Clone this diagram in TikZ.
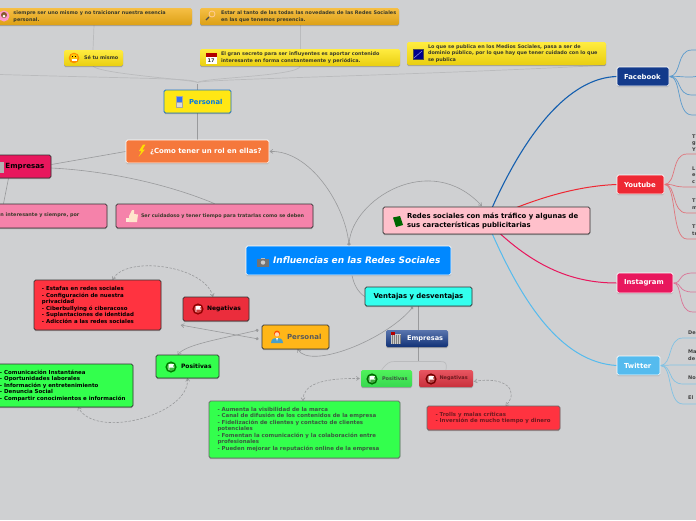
\documentclass[tikz,border=0pt]{standalone}
\usepackage{fontspec}
\setmainfont{DejaVu Sans}
\usetikzlibrary{arrows.meta,backgrounds,shadows,calc}
\definecolor{bgc}{HTML}{CFD0D2}
\definecolor{grl}{HTML}{999A9C}
\definecolor{grf}{HTML}{BABBBD}
\definecolor{fbn}{HTML}{133A8B}
\definecolor{ytr}{HTML}{EE2833}
\definecolor{igp}{HTML}{E8175D}
\definecolor{twb}{HTML}{55BBEE}
\definecolor{txd}{HTML}{3A3A2A}
\definecolor{goldt}{HTML}{F6BF45}
\definecolor{goldb}{HTML}{DCA015}
\definecolor{yelt}{HTML}{FFEC40}
\definecolor{yelb}{HTML}{E9CE10}
\definecolor{darkgreentxt}{HTML}{3A5A3E}
\definecolor{darkredtxt}{HTML}{6E1A20}
\tikzset{
 x=1pt,y=-1pt,
 boxbase/.style={rounded corners=1.6pt,align=left},
 shad/.style={drop shadow={shadow xshift=0pt,shadow yshift=-1.2pt,opacity=.22,fill=black}},
 goldbox/.style={boxbase,shad,top color=goldt,bottom color=goldb,text=txd,font=\fontsize{4.9}{6.8}\selectfont\bfseries},
 yellowbox/.style={boxbase,shad,top color=yelt,bottom color=yelb,text=txd,font=\fontsize{4.9}{6.8}\selectfont\bfseries},
 darkedge/.style={draw=black!80,line width=.8pt,boxbase,shad},
 whiteedge/.style={draw=white,line width=.8pt,boxbase,shad},
 listfont/.style={font=\fontsize{5.45}{6.5}\selectfont\bfseries},
 socialfont/.style={font=\fontsize{6.9}{8}\selectfont\bfseries},
 tiptxt/.style={font=\fontsize{5}{6.7}\selectfont\bfseries,text=black!75,anchor=west,inner sep=0pt,align=left},
 conn/.style={draw=grl,line width=.6pt},
 connl/.style={draw=grf,line width=.7pt},
 arr/.style={conn,-{Straight Barb[length=3pt,width=4pt]}},
 darr/.style={draw=grl,line width=.6pt,dashed,dash pattern=on 2.5pt off 1.5pt,{Straight Barb[length=3pt,width=4pt]}-{Straight Barb[length=3pt,width=4pt]}},
 dotarr/.style={conn,{Circle[length=3pt,width=3pt]}-{Straight Barb[length=3pt,width=4pt]}},
 fanb/.style={line width=.7pt,draw=fbn!35!twb!80!bgc},
 fanr/.style={line width=.7pt,draw=ytr!55!bgc},
 fanp/.style={line width=.7pt,draw=igp!50!bgc},
 fant/.style={line width=.7pt,draw=twb!65!bgc},
}
\newcommand\bx[8]{%
 \pgfmathsetmacro\bxw{#4-(#2)}\pgfmathsetmacro\bxh{#5-#3}%
 \pgfmathsetmacro\bxcx{(#2+#4)/2}\pgfmathsetmacro\bxcy{(#3+#5)/2}%
 \node[#7,minimum width=\bxw pt,minimum height=\bxh pt,inner sep=0pt] (#1) at (\bxcx,\bxcy)
  {\makebox[\bxw pt][l]{\hspace*{#6pt}\parbox{400pt}{\raggedright #8}}};}
\newcommand\flagic[3]{%
 \fill[#3!75!black] (#1,#2) circle (5.6);
 \fill[#3!75!white] (#1,#2) circle (4);
 \fill[white] (#1-2.5,#2-2.8) -- (#1+3,#2-2.8) -- (#1+2,#2-.9) -- (#1+3,#2+.6) -- (#1-1.6,#2+.6) -- (#1-1.6,#2+3.2) -- (#1-2.5,#2+3.2) -- cycle;}
\newcommand\personic[2]{%
 \fill[orange!60!red] (#1,#2-3.4) circle (3);
 \fill[orange!30!white] (#1,#2-2.6) circle (2.2);
 \fill[twb!85!black] (#1-6,#2+6) .. controls (#1-6,#2+1) and (#1-2,#2+1) .. (#1,#2+1) .. controls (#1+2,#2+1) and (#1+6,#2+1) .. (#1+6,#2+6) -- cycle;
 \fill[white] (#1-1,#2+1) -- (#1+1,#2+1) -- (#1,#2+4) -- cycle;}
\newcommand\buildic[2]{%
 \fill[black!20] (#1-5,#2-4) rectangle (#1+5,#2+6);
 \fill[red!70!black] (#1-5,#2-6) rectangle (#1-1.5,#2-3);
 \foreach \i in {-4,-2,0,2,4}{\draw[black!50,line width=.5pt] (#1+\i,#2-3) -- (#1+\i,#2+6);}}
\begin{document}
\begin{tikzpicture}
\useasboundingbox (0,0) rectangle (696,520);
\begin{scope}[on background layer]
 \fill[bgc] (0,0) rectangle (696,520);
\end{scope}

% central
\bx{central}{246}{246}{451}{275}{27}{whiteedge,fill={rgb,255:red,0;green,136;blue,255},text=white,font=\fontsize{9}{10}\selectfont\bfseries\itshape}{\raisebox{-1pt}{Influencias en las Redes Sociales}}
\bx{redes}{383}{207}{590}{234}{24}{darkedge,fill={rgb,255:red,255;green,192;blue,203},text=black,font=\fontsize{6.9}{9}\selectfont\bfseries}{Redes sociales con más tráfico y algunas de\\sus características publicitarias}
\bx{ventajas}{365}{287}{472}{306}{8.5}{darkedge,fill={rgb,255:red,51;green,255;blue,238},text=black,font=\fontsize{6.9}{8}\selectfont\bfseries}{Ventajas y desventajas}

% top
\bx{sermismo}{-10}{8}{192}{25}{23.5}{goldbox}{siempre ser uno mismo y no traicionar nuestra esencia\\personal.}
\bx{novedades}{200}{8}{399}{25}{21}{goldbox}{Estar al tanto de las todas las novedades de las Redes Sociales\\en las que tenemos presencia.}
\bx{setu}{64}{50}{123}{66}{20}{yellowbox}{Sé tu mismo}
\bx{secreto}{200}{49}{400}{66}{21}{yellowbox}{El gran secreto para ser influyentes es aportar contenido\\interesante en forma constantemente y periódica.}
\bx{publica}{407}{42}{606}{65}{21}{yellowbox}{Lo que se publica en los Medios Sociales, pasa a ser de\\dominio público, por lo que hay que tener cuidado con lo que\\se publica}
\bx{personaltop}{164}{90}{231}{113}{25}{draw={rgb,255:red,30;green,120;blue,200},line width=.9pt,boxbase,shad,fill={rgb,255:red,255;green,231;blue,20},text={rgb,255:red,0;green,120;blue,230},font=\fontsize{6.8}{8}\selectfont\bfseries}{Personal}
\bx{rol}{126}{140}{269}{163}{24}{whiteedge,fill={rgb,255:red,245;green,120;blue,60},text=white,font=\fontsize{6.95}{8}\selectfont\bfseries}{¿Como tener un rol en ellas?}
\bx{empresas1}{-10}{155}{51}{178}{15.5}{darkedge,fill=igp,text=black,font=\fontsize{7.1}{8}\selectfont\bfseries}{Empresas}
\bx{pink1}{-10}{204}{107}{228}{10.5}{darkedge,fill={rgb,255:red,245;green,130;blue,170},text=txd,font=\fontsize{4.9}{6.5}\selectfont\bfseries}{\raisebox{3.5pt}{n interesante y siempre, por}}
\bx{pink2}{116}{204}{313}{228}{25}{darkedge,fill={rgb,255:red,245;green,130;blue,170},text=txd,font=\fontsize{4.85}{6.5}\selectfont\bfseries}{Ser cuidadoso y tener tiempo para tratarlas como se deben}

% left cluster
\bx{listneg}{34}{280}{161}{330}{8}{darkedge,fill={rgb,255:red,255;green,51;blue,64},text=black,listfont}{- Estafas en redes sociales\\- Configuración de nuestra\\privacidad\\- Ciberbullying ó ciberacoso\\- Suplantaciones de identidad\\- Adicción a las redes sociales}
\bx{neg}{183}{297}{249}{321}{24}{darkedge,fill={rgb,255:red,235;green,45;blue,60},text=black,font=\fontsize{6}{7}\selectfont\bfseries}{Negativas}
\bx{personal}{262}{325}{329}{349}{25}{darkedge,fill={rgb,255:red,255;green,182;blue,24},text=black!65,font=\fontsize{7}{8}\selectfont\bfseries}{Personal}
\bx{pos}{156}{355}{219}{378}{25}{darkedge,fill={rgb,255:red,51;green,255;blue,77},text=black,font=\fontsize{6}{7}\selectfont\bfseries}{Positivas}
\bx{listpos}{-5}{364}{133}{407}{5}{darkedge,fill={rgb,255:red,51;green,255;blue,77},text=black,listfont}{- Comunicación Instantánea\\- Oportunidades laborales\\- Información y entretenimiento\\- Denuncia Social\\- Compartir conocimientos e información}

% right lower cluster
\bx{empresas2}{386}{330}{448}{347}{21}{boxbase,shad,top color=fbn!70!white,bottom color=fbn!85!black,text=white,font=\fontsize{6.6}{7}\selectfont\bfseries}{Empresas}
\bx{pos2}{361}{370}{412}{387}{21}{boxbase,shad,top color={rgb,255:red,79;green,242;blue,90},bottom color={rgb,255:red,56;green,216;blue,80},text=darkgreentxt,font=\fontsize{5}{6}\selectfont\bfseries}{Positivas}
\bx{neg2}{419}{370}{473}{387}{20.5}{boxbase,shad,top color={rgb,255:red,232;green,85;blue,96},bottom color={rgb,255:red,200;green,48;blue,60},text=darkredtxt,font=\fontsize{5}{6}\selectfont\bfseries}{Negativas}
\bx{listpos2}{209}{401}{400}{458}{8.5}{darkedge,draw=black!60,fill={rgb,255:red,51;green,255;blue,77},text=darkgreentxt,listfont}{- Aumenta la visibilidad de la marca\\- Canal de difusión de los contenidos de la empresa\\- Fidelización de clientes y contacto de clientes\\potenciales\\- Fomentan la comunicación y la colaboración entre\\profesionales\\- Pueden mejorar la reputación online de la empresa}
\bx{listneg2}{427}{406}{560}{430}{8.5}{darkedge,draw=black!60,fill={rgb,255:red,255;green,51;blue,64},text=darkredtxt,listfont}{- Trolls y malas críticas\\- Inversión de mucho tiempo y dinero}

% social
\bx{fb}{617}{67}{669}{86}{7}{whiteedge,fill=fbn,text=white,socialfont}{Facebook}
\bx{yt}{617}{175}{664}{194}{7}{whiteedge,fill=ytr,text=white,socialfont}{Youtube}
\bx{ig}{617}{273}{673}{293}{7}{whiteedge,fill=igp,text=white,socialfont}{Instagram}
\bx{tw}{617}{356}{660}{375}{7}{whiteedge,fill=twb,text=white,socialfont}{Twitter}

% cropped tips at the right
\node[tiptxt] (ya) at (692,143) {T\\g\\Y};
\node[tiptxt] (yb) at (692,175) {L\\e\\c};
\node[tiptxt] (yc) at (692,204) {T\\m};
\node[tiptxt] (yd) at (692,230) {T\\tr};
\node[tiptxt] (ta) at (688,333) {De};
\node[tiptxt] (tb) at (688,355) {Ma\\de};
\node[tiptxt] (tc) at (688,378) {No};
\node[tiptxt] (td) at (688,398) {El};

% icons
\fill[pink!80!magenta] (4,16) circle (5.5); \fill[brown!70!black] (4,15) circle (3); \fill[white] (4,16) circle (1.5);
\draw[black!70,line width=1.2pt] (206,20) -- (209,17); \draw[orange!40!white,line width=.8pt] (212,14) circle (3);
\fill[orange!90!yellow] (74,58) circle (5.3); \fill[yellow!60!orange] (74,57.5) circle (3.8); \fill[white] (71.5,59) rectangle (76.5,61);\fill[black] (71.8,55.5) rectangle (73,56.7);\fill[black] (75,55.5) rectangle (76.2,56.7);
\fill[white] (205.5,52.5) rectangle (216.5,64); \fill[red!70!black] (205.5,52.5) rectangle (216.5,56.5); \node[inner sep=0pt,font=\fontsize{5}{5}\selectfont\bfseries,text=black!80] (calnum) at (211,60.3) {17};
\fill[black!70] (412.5,49) rectangle (423.5,60); \fill[blue!55!black] (413.5,50) rectangle (422.5,59); \draw[white!70!blue,line width=.4pt] (414,58) -- (422,51);
\fill[black!35] (175.5,96) rectangle (182.5,108); \fill[blue!40!twb] (176.5,97) rectangle (181.5,102); \fill[black!15] (176.5,103) rectangle (181.5,107);
\fill[yellow!80!orange] (143,144.5) -- (139,151) -- (141.5,151) -- (138.5,157) -- (145,149.5) -- (142.5,149.5) -- (145.5,144.5) -- cycle;
\fill[black!30] (-6,162) rectangle (4,173);
\fill[orange!15!white] (126,218) rectangle (129,222); \fill[orange!20!white] (129,216) -- (132,210) -- (134,210) -- (134,214) -- (138,214.5) -- (137,222) -- (129,222) -- cycle;
\fill[black!55] (257,259) rectangle (269,266.5); \fill[black!25] (261,257.5) rectangle (265,259); \fill[black!20] (263,262.5) circle (2.2);
\fill[green!40!black] (393,217.5) -- (400,216) -- (403,225) -- (396,227) -- cycle;
\flagic{198}{309}{red!75!black}
\flagic{171}{367}{green!65!black}
\flagic{372}{379}{green!55!black}
\flagic{431}{379}{red!60!black}
\personic{277}{337}
\buildic{396}{338}

% connectors
\begin{scope}[on background layer]
 \draw[line width=1.1pt,draw={rgb,255:red,21;green,95;blue,175}] (redes.center) .. controls (525,130) and (570,78) .. (fb.west);
 \draw[line width=1pt,draw=ytr] (redes.center) .. controls (530,200) and (575,186) .. (yt.west);
 \draw[line width=1pt,draw=igp] (redes.center) .. controls (530,265) and (570,283) .. (ig.west);
 \draw[line width=1pt,draw=twb] (redes.center) .. controls (520,300) and (560,362) .. (tw.west);

 \coordinate (fbA) at (700,50); \coordinate (fbB) at (700,76); \coordinate (fbC) at (700,95); \coordinate (fbD) at (700,115);
 \foreach \e/\y in {fbA/50,fbB/77,fbC/95,fbD/115} \draw[fanb] (fb.east) .. controls (682,76) and (676,\y) .. (692,\y) -- (\e);
 \coordinate (ytA) at (700,154); \coordinate (ytB) at (700,187); \coordinate (ytC) at (700,213); \coordinate (ytD) at (700,239);
 \foreach \e/\y in {ytA/154,ytB/187,ytC/213,ytD/239} \draw[fanr] (yt.east) .. controls (677,184) and (671,\y) .. (687,\y) -- (\e);
 \coordinate (igA) at (700,273); \coordinate (igB) at (700,292); \coordinate (igC) at (700,312);
 \foreach \e/\y in {igA/273,igB/292,igC/312} \draw[fanp] (ig.east) .. controls (683,283) and (677,\y) .. (693,\y) -- (\e);
 \coordinate (twA) at (700,338); \coordinate (twB) at (700,365); \coordinate (twC) at (700,384); \coordinate (twD) at (700,404);
 \foreach \e/\y in {twA/338,twB/365,twC/384,twD/404} \draw[fant] (tw.east) .. controls (673,365) and (667,\y) .. (683,\y) -- (\e);

 % central connections
 \draw[dotarr] ([xshift=.5pt]central.north) .. controls (345,205) and (310,150) .. (rol.east);
 \draw[dotarr] ([xshift=.5pt]central.north) .. controls (352,200) and (430,150) .. ([xshift=-4.5pt,yshift=.5pt]redes.north);
 \draw[conn] ([xshift=3.5pt]central.south) .. controls (354,285) and (358,292) .. (ventajas.west);
 \draw[dotarr] ([xshift=-5.5pt,yshift=-.5pt]ventajas.south) .. controls (385,340) and (310,370) .. ([xshift=2pt,yshift=.5pt]personal.south);
 \draw[conn] ([xshift=-.5pt]ventajas.south) -- ([xshift=1pt]empresas2.north);
 \draw[conn] ([xshift=1pt]empresas2.south) -- ++(0,14);
 \draw[connl] ([xshift=-30pt]pos2.north east) ++(-.5,0) .. controls (387,363) and (389,361.5) .. (395,361.5) -- (440,361.5) .. controls (446,361.5) and (447,363) .. (neg2.north);
 \draw[dotarr] ([xshift=-3pt,yshift=-2pt]personal.west) -- ([xshift=-2pt,yshift=-16pt]neg.west);
 \draw[dotarr] ([xshift=-3pt,yshift=7pt]personal.west) .. controls (215,340) and (185,345) .. ([xshift=-10pt,yshift=-.5pt]pos.north);
 \draw[darr] ([xshift=-3pt,yshift=-.5pt]neg.north) .. controls (205,265) and (125,255) .. ([xshift=15pt,yshift=-.5pt]listneg.north);
 \draw[darr] ([yshift=.5pt]pos.south) .. controls (190,415) and (95,440) .. ([xshift=14pt,yshift=.5pt]listpos.south);
 \draw[darr] ([xshift=-1pt]pos2.west) .. controls (320,378) and (303,385) .. ([xshift=-1.5pt,yshift=-.5pt]listpos2.north);
 \draw[darr] ([xshift=.5pt,yshift=-3pt]neg2.east) .. controls (505,376) and (520,390) .. ([xshift=12pt,yshift=-.5pt]listneg2.north);

 % personal fan
 \draw[conn,draw=grl] (personaltop.north) -- ++(0,-6);
 \draw[conn] (personaltop.south) -- (rol.north);
 \draw[connl] ([xshift=3pt]sermismo.south) -- ([xshift=-.5pt]setu.north);
 \draw[connl] ([xshift=.5pt]novedades.south) -- (secreto.north);
 \draw[connl] (personaltop.north) ++(0,-7) .. controls (196,80) and (100,74) .. ([xshift=-.5pt]setu.south);
 \draw[connl] (personaltop.north) ++(0,-7) .. controls (200,78) and (300,76) .. (secreto.south);
 \draw[connl] (personaltop.north) ++(0,-7) .. controls (193,78) and (150,79) .. (0,74.5);
 \draw[connl] (personaltop.north) ++(0,-7) .. controls (203,79) and (400,76) .. (publica.south east);

 % empresas
 \draw[conn] ([yshift=2pt]empresas1.east) -- (rol.west);
 \draw[conn] ([yshift=-1.5pt]empresas1.east) .. controls (110,171) and (170,185) .. ([xshift=0pt]pink2.north);
 \draw[conn] ([xshift=-12pt]empresas1.south) -- ([xshift=-45pt]pink1.north);
\end{scope}
\end{tikzpicture}
\end{document}
